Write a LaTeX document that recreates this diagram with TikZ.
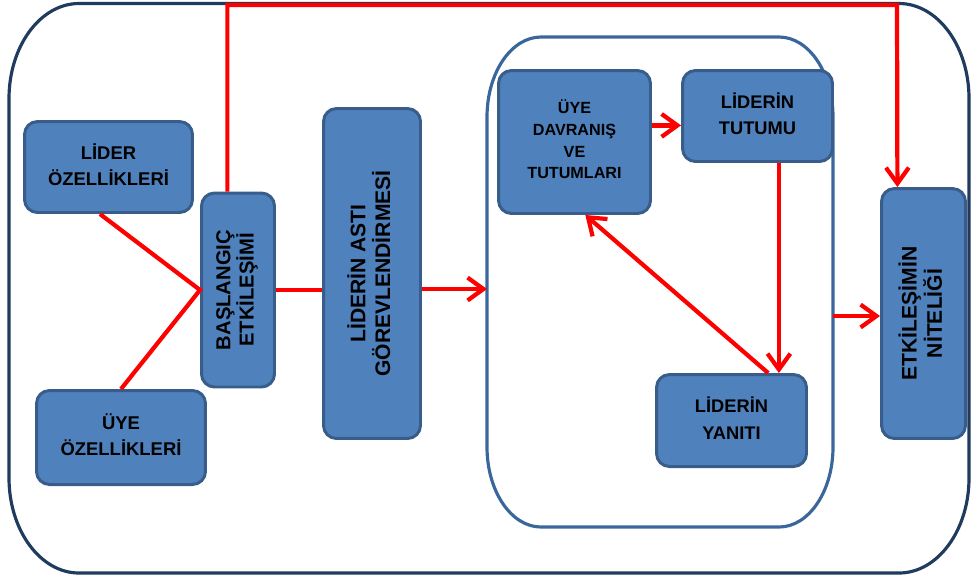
\documentclass[tikz,border=0pt]{standalone}
\usepackage{fontspec}
\setmainfont{Liberation Sans}
\usetikzlibrary{arrows.meta,calc}

\definecolor{boxfill}{HTML}{4F81BD}
\definecolor{boxline}{HTML}{385D8A}
\definecolor{outerline}{HTML}{1F3B5E}
\definecolor{innerline}{HTML}{3A679B}
\definecolor{linkred}{HTML}{FF0000}

% horizontal and rotated box captions: size, line skip, lines
\newcommand{\boxlabelh}[3]{{\fontsize{#1}{#2}\selectfont\bfseries\begin{tabular}{@{}c@{}}#3\end{tabular}}}
\newcommand{\boxlabelv}[3]{\rotatebox{90}{\fontsize{#1}{#2}\selectfont\bfseries\begin{tabular}{@{}c@{}}#3\end{tabular}}}

\begin{document}
\begin{tikzpicture}[x=0.02cm,y=-0.02cm,
  box/.style={draw=boxline, fill=boxfill, line width=1.7pt, rounded corners=0.26cm, inner sep=0pt, text=black},
  link/.style={draw=linkred, line width=2.4pt},
  arr/.style={link, -{Straight Barb[length=9pt,width=13pt]}}]

\useasboundingbox (0,0) rectangle (976,583);

% outer frame
\draw[outerline, line width=1.8pt]
  (9,98.5) .. controls (9,46.1) and (40.4,3.5) .. (79,3.5) -- (899,3.5)
  .. controls (937.6,3.5) and (969,46.1) .. (969,98.5) -- (969,478)
  .. controls (969,530.4) and (937.6,573) .. (899,573) -- (79,573)
  .. controls (40.4,573) and (9,530.4) .. (9,478) -- cycle;

% inner frame around the feedback loop
\draw[innerline, line width=1.8pt]
  (487,117) .. controls (487,72.8) and (511.2,37) .. (541,37) -- (779,37)
  .. controls (808.8,37) and (833,72.8) .. (833,117) -- (833,447)
  .. controls (833,491.2) and (808.8,527) .. (779,527) -- (541,527)
  .. controls (511.2,527) and (487,491.2) .. (487,447) -- cycle;
\coordinate (inW) at (487,289);
\coordinate (inE) at (833,316);

% boxes
\node[box, minimum width=3.36cm, minimum height=1.82cm] (lider) at (108.5,167)
  {\boxlabelh{10.5}{15}{LİDER\\ÖZELLİKLERİ}};
\node[box, minimum width=3.38cm, minimum height=1.88cm] (uye) at (121,437.5)
  {\boxlabelh{10.5}{15}{ÜYE\\ÖZELLİKLERİ}};
\node[box, minimum width=1.46cm, minimum height=3.88cm] (basl) at (238,290)
  {\boxlabelv{11.5}{11.5}{BAŞLANGIÇ\\ETKİLEŞİMİ}};
\node[box, minimum width=1.94cm, minimum height=6.6cm] (asti) at (372,273.5)
  {\boxlabelv{12}{12.5}{LİDERİN ASTI\\GÖREVLENDİRMESİ}};
\node[box, minimum width=3.04cm, minimum height=2.86cm] (davr) at (574.5,142)
  {\boxlabelh{9.2}{12.3}{ÜYE\\DAVRANIŞ\\VE\\TUTUMLARI}};
\node[box, minimum width=3.0cm, minimum height=1.82cm] (tutum) at (757.5,116)
  {\boxlabelh{10.4}{14.7}{LİDERİN\\TUTUMU}};
\node[box, minimum width=3.0cm, minimum height=1.84cm] (yanit) at (731.5,420.5)
  {\boxlabelh{10.4}{15.5}{LİDERİN\\YANITI}};
\node[box, minimum width=1.68cm, minimum height=5.0cm] (nitelik) at (923.5,313.5)
  {\boxlabelv{12}{12.5}{ETKİLEŞİMİN\\NİTELİĞİ}};

% connectors
\draw[link] ($(lider.south west)!0.45!(lider.south east)$) -- (basl.west) -- (uye.north);

\coordinate (bOut) at ($(basl.north west)!0.36!(basl.north east)$);
\coordinate (nIn) at ($(nitelik.north west)!0.2!(nitelik.north east)$);
\coordinate (roofR) at (897,5);
\draw[arr] (bOut) |- (roofR) -- (nIn);

\draw[link] (basl.east) -- (asti.west |- basl.east);
\draw[arr] (asti.east |- inW) -- (inW);
\draw[arr] (inE) -- (nitelik.west |- inE);

\coordinate (tIn) at ($(tutum.north west)!0.6!(tutum.south west)$);
\draw[arr] (davr.east |- tIn) -- (tIn);

\coordinate (tOut) at ($(tutum.south west)!0.64!(tutum.south east)$);
\draw[arr] (tOut) -- (tOut |- yanit.north);

\draw[arr] ($(yanit.north west)!0.74!(yanit.north east)$) -- ($(davr.south west)!0.57!(davr.south east)$);

\end{tikzpicture}
\end{document}
